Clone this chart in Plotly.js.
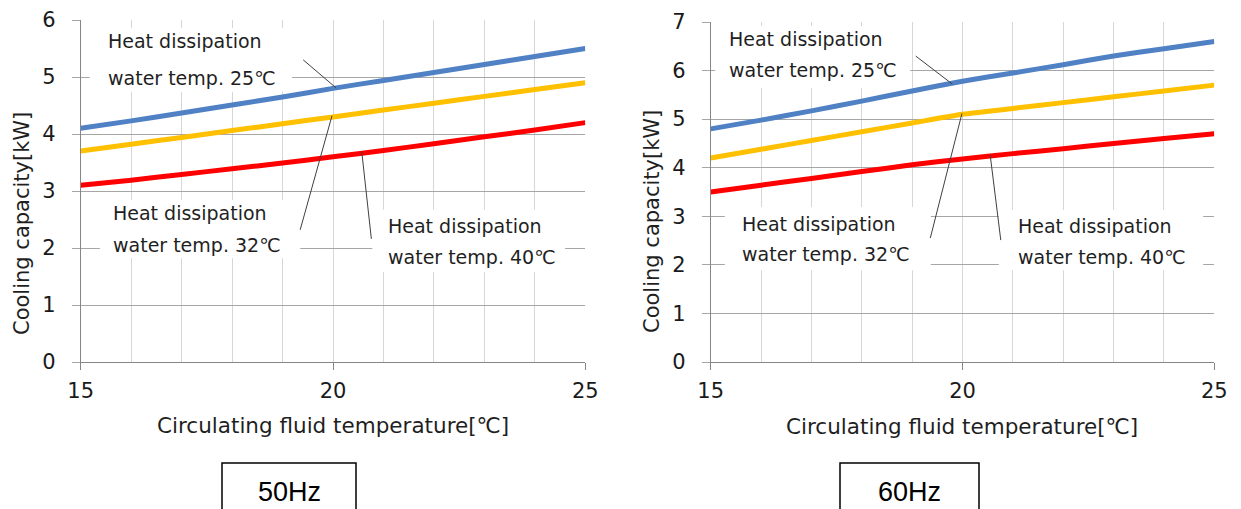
<!DOCTYPE html>
<html>
<head>
<meta charset="utf-8">
<script src="https://cdn.plot.ly/plotly-3.0.1.min.js"></script>
<style>html,body{margin:0;padding:0;background:#fff;}#chart{width:1241px;height:509px;}</style>
</head>
<body>
<div id="chart"></div>
<script>
// ---- data ----
const temps = [15, 16, 17, 18, 19, 20, 21, 22, 23, 24, 25];
const hz50_water25 = [4.1, 4.23, 4.37, 4.51, 4.65, 4.8, 4.94, 5.08, 5.22, 5.36, 5.5];
const hz50_water32 = [3.7, 3.82, 3.94, 4.06, 4.18, 4.3, 4.42, 4.54, 4.66, 4.78, 4.9];
const hz50_water40 = [3.1, 3.19, 3.29, 3.39, 3.49, 3.6, 3.71, 3.83, 3.95, 4.07, 4.2];
const hz60_water25 = [4.8, 4.98, 5.17, 5.37, 5.58, 5.78, 5.95, 6.12, 6.3, 6.45, 6.6];
const hz60_water32 = [4.2, 4.38, 4.56, 4.74, 4.92, 5.1, 5.22, 5.34, 5.46, 5.58, 5.7];
const hz60_water40 = [3.5, 3.64, 3.78, 3.92, 4.06, 4.18, 4.29, 4.39, 4.5, 4.6, 4.7];
const labelLine1 = "Heat dissipation";
const labelLine2 = ["water temp. 25℃", "water temp. 32℃", "water temp. 40℃"];
const xTitle = "Circulating fluid temperature[℃]";
const yTitle = "Cooling capacity[kW]";
const panelNames = ["50Hz", "60Hz"];

// ---- layout helpers ----
const W = 1241, H = 509;
const px = v => v / W;
const py = v => 1 - v / H;
const FONT = "'DejaVu Sans', 'Noto Sans CJK JP', sans-serif";
const colors = ["#4f81c4", "#ffc000", "#ff0000"];

function tr(y, i, xa, ya) {
  return {x: temps, y: y, xaxis: xa, yaxis: ya, mode: "lines", type: "scatter",
    line: {color: colors[i], width: 5, shape: "spline", smoothing: 0.6}, hoverinfo: "skip", showlegend: false};
}
const data = [
  tr(hz50_water25, 0, "x", "y"), tr(hz50_water32, 1, "x", "y"), tr(hz50_water40, 2, "x", "y"),
  tr(hz60_water25, 0, "x2", "y2"), tr(hz60_water32, 1, "x2", "y2"), tr(hz60_water40, 2, "x2", "y2")
];

function xax(d0, d1, anchor) {
  return {domain: [px(d0), px(d1)], anchor: anchor, range: [15, 25], dtick: 5, tick0: 15,
    showgrid: true, gridcolor: "#d6d6d6", gridwidth: 1,
    minor: {dtick: 1, showgrid: true, gridcolor: "#d6d6d6", gridwidth: 1, ticks: ""},
    showline: true, linecolor: "#868686", linewidth: 1, zeroline: false,
    ticks: "outside", ticklen: 7, tickcolor: "#868686", tickwidth: 1,
    tickfont: {family: FONT, size: 21, color: "#1a1a1a"}, ticklabelstandoff: 3, fixedrange: true};
}
function yax(d0, d1, anchor, maxv) {
  return {domain: [py(d1), py(d0)], anchor: anchor, range: [0, maxv], dtick: 1, tick0: 0,
    showgrid: true, gridcolor: "#a6a6a6", gridwidth: 1,
    showline: true, linecolor: "#868686", linewidth: 1, zeroline: false,
    ticks: "outside", ticklen: 8, tickcolor: "#a6a6a6", tickwidth: 1,
    tickfont: {family: FONT, size: 21, color: "#1a1a1a"}, ticklabelstandoff: 12, fixedrange: true};
}

const annotations = [];
const shapes = [];
function txt(xr, yr, x, y, t) {
  annotations.push({xref: xr, yref: yr, x: x, y: y, text: t, showarrow: false, xanchor: "left", yanchor: "middle",
    font: {family: FONT, size: 19, color: "#1f1f1f"}});
}
function box(xr, yr, x0, x1, y0, y1) {
  shapes.push({type: "rect", xref: xr, yref: yr, x0: x0, x1: x1, y0: y0, y1: y1, fillcolor: "#ffffff", line: {width: 0}, layer: "between"});
}
function lead(xr, yr, x0, y0, x1, y1) {
  shapes.push({type: "line", xref: xr, yref: yr, x0: x0, y0: y0, x1: x1, y1: y1, line: {color: "#404040", width: 1}, layer: "above"});
}

// left (50Hz)
box("x", "y", 15.18, 19.19, 4.74, 5.86);
box("x", "y", 15.38, 19.35, 1.82, 2.84);
box("x", "y", 20.78, 24.6, 1.58, 2.67);
txt("x", "y", 15.5, 5.63, labelLine1); txt("x", "y", 15.5, 4.98, labelLine2[0]);
txt("x", "y", 15.6, 2.61, labelLine1); txt("x", "y", 15.6, 2.05, labelLine2[1]);
txt("x", "y", 21.05, 2.39, labelLine1); txt("x", "y", 21.05, 1.84, labelLine2[2]);
lead("x", "y", 19.41, 5.30, 20.06, 4.81);
lead("x", "y", 19.35, 2.32, 19.98, 4.32);
lead("x", "y", 20.76, 2.16, 20.57, 3.69);

// right (60Hz)
box("x2", "y2", 15.09, 18.96, 5.64, 6.92);
box("x2", "y2", 15.28, 19.37, 1.89, 3.19);
box("x2", "y2", 20.72, 24.78, 1.89, 3.13);
txt("x2", "y2", 15.33, 6.65, labelLine1); txt("x2", "y2", 15.33, 6.01, labelLine2[0]);
txt("x2", "y2", 15.58, 2.84, labelLine1); txt("x2", "y2", 15.58, 2.22, labelLine2[1]);
txt("x2", "y2", 21.06, 2.8, labelLine1); txt("x2", "y2", 21.06, 2.16, labelLine2[2]);
lead("x2", "y2", 19.07, 6.30, 19.8, 5.72);
lead("x2", "y2", 19.36, 2.55, 19.99, 5.12);
lead("x2", "y2", 20.76, 2.51, 20.55, 4.26);

// axis titles (as paper annotations)
[[333, 425, 22, 224], [962, 426, 652, 222]].forEach(p => {
  annotations.push({xref: "paper", yref: "paper", x: px(p[0]), y: py(p[1]), text: xTitle, showarrow: false,
    xanchor: "center", yanchor: "middle", font: {family: FONT, size: 21.5, color: "#1f1f1f"}});
  annotations.push({xref: "paper", yref: "paper", x: px(p[2]), y: py(p[3]), text: yTitle, showarrow: false, textangle: -90,
    xanchor: "center", yanchor: "middle", font: {family: FONT, size: 21, color: "#1f1f1f"}});
});

// Hz boxes
[[222, 356], [840, 979]].forEach((b, i) => {
  shapes.push({type: "rect", xref: "paper", yref: "paper", x0: px(b[0]), x1: px(b[1]), y0: py(520), y1: py(463),
    line: {color: "#000000", width: 1.5}, fillcolor: "rgba(0,0,0,0)"});
  annotations.push({xref: "paper", yref: "paper", x: px((b[0] + b[1]) / 2), y: py(492), text: panelNames[i], showarrow: false,
    xanchor: "center", yanchor: "middle", font: {family: "'Liberation Sans', Arial, sans-serif", size: 27, color: "#000"}});
});

const layout = {
  width: W, height: H, margin: {l: 0, r: 0, t: 0, b: 0}, paper_bgcolor: "#fff", plot_bgcolor: "#fff",
  showlegend: false,
  xaxis: xax(80.7, 585.3, "y"), yaxis: yax(20, 362, "x", 6),
  xaxis2: xax(710.7, 1214.3, "y2"), yaxis2: yax(22, 362, "x2", 7),
  annotations: annotations, shapes: shapes
};
Plotly.newPlot("chart", data, layout, {displayModeBar: false, staticPlot: true});
</script>
</body>
</html>
